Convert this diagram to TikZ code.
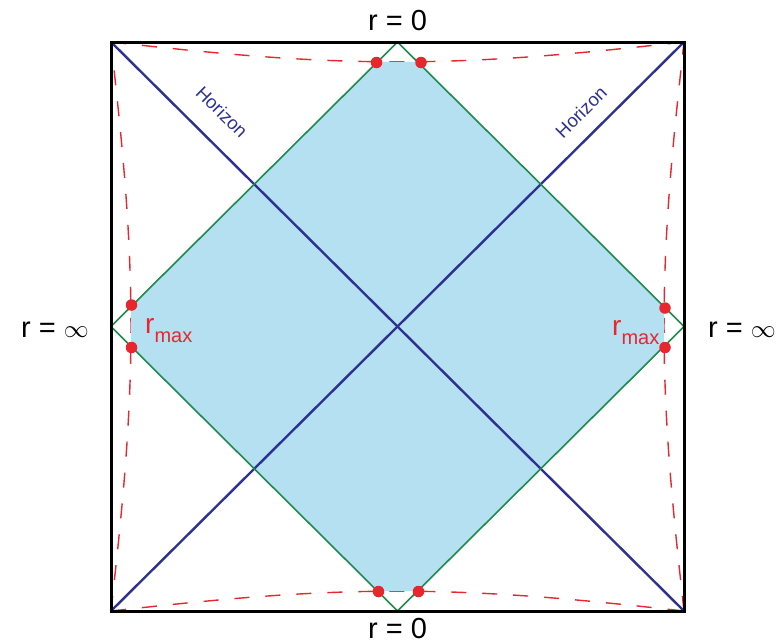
\documentclass[tikz,border=0pt]{standalone}
\usepackage{fontspec}
\setmainfont{Liberation Sans}
\definecolor{navyc}{HTML}{2E3192}
\definecolor{greenc}{HTML}{1E8A4C}
\definecolor{redc}{HTML}{E8262D}
\definecolor{fillc}{HTML}{B4E0F1}
\tikzset{
  frame/.style={line width=3pt, black},
  horizon/.style={line width=2.4pt, navyc},
  lightcone/.style={line width=1.6pt, greenc},
  rcurve/.style={line width=1.4pt, redc, dash pattern=on 15pt off 16pt},
  rdot/.style={circle, fill=redc, inner sep=0pt, minimum size=11.5pt},
  lbl/.style={font=\fontsize{29}{31}\selectfont, inner sep=0pt},
  hlbl/.style={font=\fontsize{18.5}{20}\selectfont, text=navyc, inner sep=0pt},
  rmlbl/.style={font=\fontsize{28}{30}\selectfont, text=redc, inner sep=0pt, anchor=base west},
}
\begin{document}
\begin{tikzpicture}[x=1pt,y=-1pt,
  declare function={qq(\s)=atan(0.896*exp(\s)); pp(\s)=atan(0.896*exp(-\s));
    sx(\a)=3.18333*\a; sy(\a)=3.16111*\a;}]
\useasboundingbox (0,0) rectangle (776,643);
% corners and edge midpoints
\coordinate (TL) at (111,42);
\coordinate (TR) at (684,42);
\coordinate (BL) at (111,611);
\coordinate (BR) at (684,611);
\coordinate (T) at (397.5,42);
\coordinate (B) at (397.5,611);
\coordinate (L) at (111,326.5);
\coordinate (R) at (684,326.5);
% constant-r curves (dashed)
\draw[rcurve] plot[domain=-8:8, samples=161, variable=\s]
  ({397.5+sx(qq(\s)-pp(\s))}, {326.5-sy(qq(\s)+pp(\s))});
\draw[rcurve] plot[domain=-8:8, samples=161, variable=\s]
  ({397.5+sx(qq(\s)-pp(\s))}, {326.5+sy(qq(\s)+pp(\s))});
\draw[rcurve] plot[domain=-8:8, samples=161, variable=\s]
  ({397.5+sx(qq(\s)+pp(\s))}, {326.5-sy(qq(\s)-pp(\s))});
\draw[rcurve] plot[domain=-8:8, samples=161, variable=\s]
  ({397.5-sx(qq(\s)+pp(\s))}, {326.5-sy(qq(\s)-pp(\s))});
% shaded region
\begin{scope}
  \clip (T) -- (R) -- (B) -- (L) -- cycle;
  \fill[fillc] plot[domain=-8:8, samples=161, variable=\s]
      ({397.5+sx(qq(\s)-pp(\s))}, {326.5-sy(qq(\s)+pp(\s))})
    -- plot[domain=8:-8, samples=161, variable=\s]
      ({397.5+sx(qq(\s)+pp(\s))}, {326.5-sy(qq(\s)-pp(\s))})
    -- plot[domain=8:-8, samples=161, variable=\s]
      ({397.5+sx(qq(\s)-pp(\s))}, {326.5+sy(qq(\s)+pp(\s))})
    -- plot[domain=-8:8, samples=161, variable=\s]
      ({397.5-sx(qq(\s)+pp(\s))}, {326.5-sy(qq(\s)-pp(\s))})
    -- cycle;
\end{scope}
% horizons
\draw[horizon] (TL) -- (BR);
\draw[horizon] (BL) -- (TR);
% green diamond
\draw[lightcone] (T) -- (R) -- (B) -- (L) -- cycle;
% frame
\draw[frame] (TL) rectangle (BR);
% dots
\node[rdot] (d1) at (376.5,62.5) {};
\node[rdot] (d2) at (421,62.5) {};
\node[rdot] (d3) at (378.5,591.5) {};
\node[rdot] (d4) at (418.5,591.5) {};
\node[rdot] (d5) at (131.5,305) {};
\node[rdot] (d6) at (131.5,347.5) {};
\node[rdot] (d7) at (665,308) {};
\node[rdot] (d8) at (665,347.5) {};
% labels
\node[lbl] (top) at (397.5,21) {r = 0};
\node[lbl] (bot) at (397.5,629) {r = 0};
\node[lbl] (lft) at (55,330) {r = $\infty$};
\node[lbl] (rgt) at (742,330) {r = $\infty$};
\node[hlbl, rotate=-44.8] (h1) at (222,112) {Horizon};
\node[hlbl, rotate=44.8] (h2) at (581,112) {Horizon};
\node[rmlbl] (rm1) at (145,333) {r\raisebox{-9pt}{\fontsize{20}{20}\selectfont max}};
\node[rmlbl] (rm2) at (612,335) {r\raisebox{-9pt}{\fontsize{20}{20}\selectfont max}};
\end{tikzpicture}
\end{document}
